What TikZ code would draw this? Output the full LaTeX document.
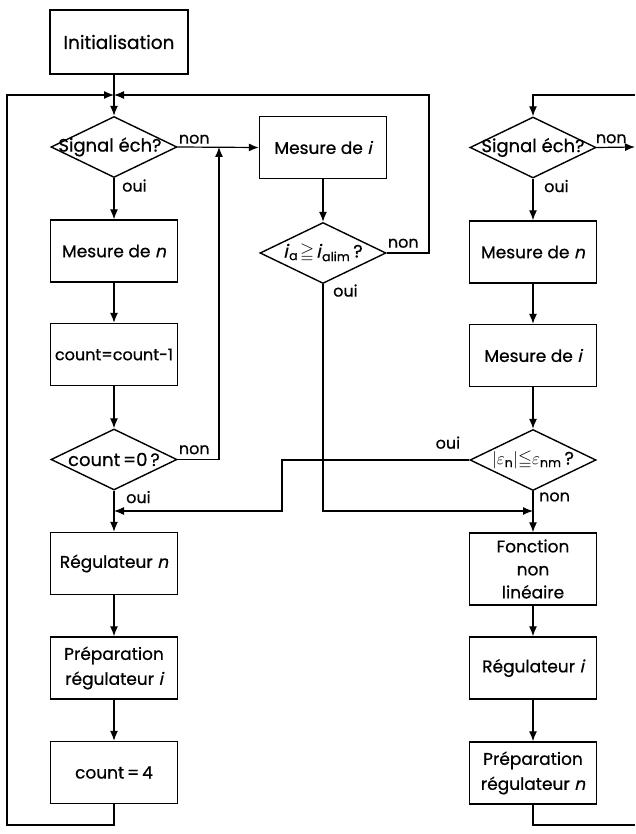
\documentclass[tikz,border=0pt]{standalone}
\usepackage{fontspec}
\usepackage{amsmath,amssymb}
\setmainfont{Poppins}[FakeBold=0.6, ItalicFont=Poppins, ItalicFeatures={FakeSlant=0.22, FakeBold=0.6}]
\usepackage{tikz}
\usetikzlibrary{arrows.meta, shapes.geometric}

\begin{document}
\begin{tikzpicture}[x=1pt, y=-1pt,
    box/.style={draw, line width=1.4pt, minimum width=127pt, minimum height=62pt,
                align=center, inner sep=0pt, font=\fontsize{17}{25}\selectfont},
    dec/.style={diamond, draw, line width=1.4pt, minimum width=126pt, minimum height=61pt,
                inner sep=0pt},
    dtxt/.style={font=\fontsize{18}{20}\selectfont, inner sep=0pt},
    arr/.style={-{Latex[length=10pt, width=8pt]}, line width=1.2pt},
    wire/.style={line width=1.2pt},
    lbl/.style={font=\fontsize{16}{18}\selectfont, inner sep=0pt},
]
    \useasboundingbox (0,0) rectangle (635,834);

    % Left column
    \node[box, minimum width=138pt, minimum height=64pt, font=\fontsize{18.5}{22}\selectfont]
        (init) at (119,42) {Initialisation};
    \node[dec, label={[dtxt, xshift=-4pt]center:{Signal éch?}}] (sig1) at (114,147) {};
    \node[box] (mesn1) at (114,251) {Mesure de \textit{n}};
    \node[box, font=\fontsize{16}{20}\selectfont] (cnt1) at (114,354.5) {count{=}count-1};
    \node[dec, label={[dtxt]center:{count\,=0\,?}}] (cz) at (114,459.5) {};
    \node[box] (regn)  at (114,563.5) {Régulateur \textit{n}};
    \node[box] (prepi) at (114,668) {Préparation\\régulateur \textit{i}};
    \node[box] (cnt4)  at (114,772.5) {count\,=\,4};

    % Middle column
    \node[box] (mesi1) at (323,147.5) {Mesure de \textit{i}};
    \node[dec, label={[dtxt]center:{\textit{i}\kern1.5pt\textsubscript{a}\kern2pt$\geqq$\kern2pt\textit{i}\kern1.5pt\textsubscript{alim}\kern3pt?}}] (ia) at (323,253) {};

    % Right column
    \node[dec, label={[dtxt]center:{Signal éch?}}] (sig2) at (533,147.5) {};
    \node[box] (mesn2) at (533,252) {Mesure de \textit{n}};
    \node[box] (mesi2) at (533,355.5) {Mesure de \textit{i}};
    \node[dec, label={[dtxt]center:{$|\varepsilon_{\text{n}}|{\leqq}\varepsilon_{\text{nm}}$\,?}}] (eps) at (533,460) {};
    \node[box, minimum height=72pt, font=\fontsize{17}{23}\selectfont] (fnl) at (533,569) {Fonction\\non\\linéaire};
    \node[box] (regi)  at (533,668) {Régulateur \textit{i}};
    \node[box] (prepn) at (533,773) {Préparation\\régulateur \textit{n}};

    % Junctions and loop corners
    \coordinate (j1) at (114,95);
    \coordinate (j2) at (219,147);
    \coordinate (j3) at (114,511);
    \coordinate (j4) at (533,511);
    \coordinate (k1) at (282,511);
    \coordinate (lb) at (7,825);
    \coordinate (rt) at (429,95);
    \coordinate (rtop) at (635,95);
    \coordinate (rbot) at (635,825);
    \coordinate (rout) at (635,147);

    % Arrows
    \draw[wire] (init.south -| j1) -- (j1);
    \draw[arr] (j1) -- (sig1);
    \draw[arr] (sig1) -- (mesn1);
    \draw[arr] (mesn1) -- (cnt1);
    \draw[arr] (cnt1) -- (cz);
    \draw[arr] (cz) -- (regn);
    \draw[arr] (regn) -- (prepi);
    \draw[arr] (prepi) -- (cnt4);
    \draw[arr] (cnt4.south) -- (cnt4.south |- lb) -- (lb) |- (j1);
    \draw[arr] (sig1.east) -- (mesi1.west);
    \draw[arr] (cz.east) -| (j2);
    \draw[arr] (mesi1) -- (ia);
    \draw[arr] (ia.east) -| (rt) -- (j1);
    \draw[arr] (ia.south) |- (j4);
    \draw[arr] (eps.west) -| (k1) -- (j3);
    \draw[arr] (rtop) -| (sig2.north);
    \draw[arr] (sig2.east) -- (rout);
    \draw[arr] (sig2) -- (mesn2);
    \draw[arr] (mesn2) -- (mesi2);
    \draw[arr] (mesi2) -- (eps);
    \draw[arr] (eps) -- (fnl);
    \draw[arr] (fnl) -- (regi);
    \draw[arr] (regi) -- (prepn);
    \draw[wire] (prepn.south) |- (rbot);

    % Branch labels
    \node[lbl, anchor=south west] (s1non) at ([xshift=1pt, yshift=3pt]sig1.east) {non};
    \node[lbl, anchor=north west] (s1oui) at ([xshift=8pt, yshift=-1pt]sig1.south) {oui};
    \node[lbl, anchor=south west] (czn)   at ([xshift=1pt, yshift=5pt]cz.east) {non};
    \node[lbl, anchor=north west] (czo)   at ([xshift=12pt]cz.south) {oui};
    \node[lbl, anchor=south west] (ian)   at ([xshift=1pt, yshift=5pt]ia.east) {non};
    \node[lbl, anchor=north west] (iao)   at ([xshift=10pt]ia.south) {oui};
    \node[lbl, anchor=south west] (s2non) at ([xshift=-1pt, yshift=4pt]sig2.east) {non};
    \node[lbl, anchor=north west] (s2oui) at ([xshift=11pt, yshift=-1pt]sig2.south) {oui};
    \node[lbl, anchor=south east] (epso)  at ([xshift=-9pt, yshift=11pt]eps.west) {oui};
    \node[lbl, anchor=north west] (epsn)  at ([xshift=6pt, yshift=-1pt]eps.south) {non};
\end{tikzpicture}
\end{document}
